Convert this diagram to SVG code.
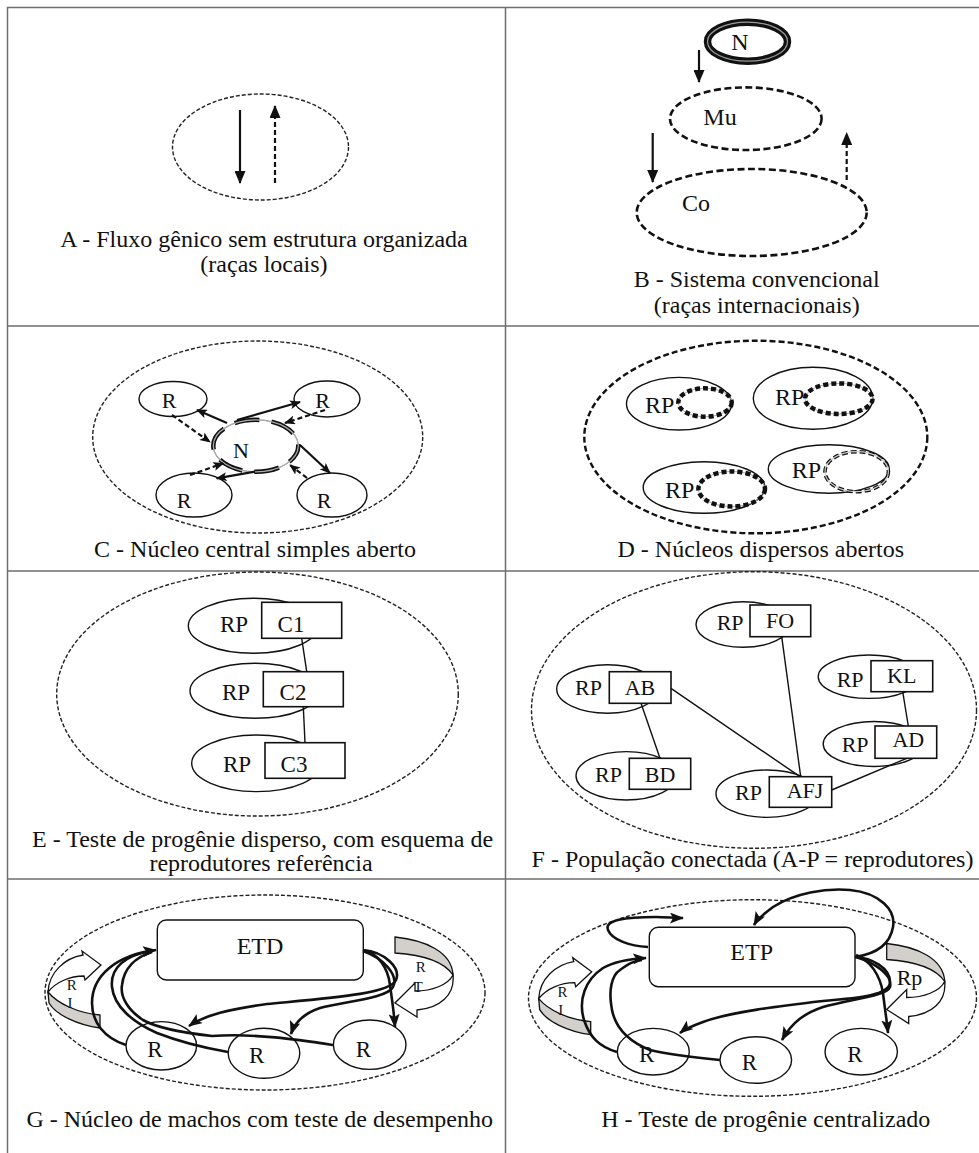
<svg xmlns="http://www.w3.org/2000/svg" xmlns:xlink="http://www.w3.org/1999/xlink" width="979" height="1153" viewBox="0 0 979 1153">
<style>
text{font-family:"Liberation Serif","Times New Roman",serif;fill:#111}
.cap{font-size:24px;text-anchor:middle}
.lbl{text-anchor:middle}
.border{stroke:#6e6e6e;stroke-width:1.5;fill:none}
.thinDash{fill:none;stroke:#222;stroke-width:1.4;stroke-dasharray:4 2}
.thickDash{fill:none;stroke:#111;stroke-width:2.6;stroke-dasharray:7 3.5}
.node{fill:none;stroke:#111;stroke-width:1.4}
.box{fill:#fff;stroke:#111;stroke-width:1.6}
.ln{fill:none;stroke:#111;stroke-width:1.4}
.sol{fill:none;stroke:#111;stroke-width:2.2}
.dsh{fill:none;stroke:#111;stroke-width:2.2;stroke-dasharray:5 3}
.crv{fill:none;stroke:#111;stroke-width:2.6}
.rib{fill:#fff;stroke:#111;stroke-width:1.3;stroke-linejoin:miter}
.ribg{fill:#d3cfcb;stroke:#111;stroke-width:1.3}
.inGray{fill:none;stroke:#aaa;stroke-width:1}
.inDash{fill:none;stroke:#111;stroke-width:4.5;stroke-dasharray:5 3}
</style>
<defs>
<marker id="ah" markerUnits="userSpaceOnUse" markerWidth="13" markerHeight="11" refX="12" refY="5.5" orient="auto"><path d="M0,0 L13,5.5 L0,11 Z" fill="#111"/></marker>
<marker id="ahs" markerUnits="userSpaceOnUse" markerWidth="11" markerHeight="9" refX="10" refY="4.5" orient="auto"><path d="M0,0 L11,4.5 L0,9 L2.5,4.5 Z" fill="#111"/></marker>
<marker id="ahc" markerUnits="userSpaceOnUse" markerWidth="14" markerHeight="11" refX="13" refY="5.5" orient="auto"><path d="M0,0 L14,5.5 L0,11 L3,5.5 Z" fill="#111"/></marker>
<g id="ribL">
<path class="ribg" d="M48,992 C58,1004 78,1013 100,1015 L100,1028 C78,1025 56,1015 49,1003 Z"/>
<path class="rib" d="M48,992 C49,972 65,958 83,955 L82,951 L101,965 L85,980 L84,976 C70,976 56,982 48,992 Z"/>
</g>
<g id="ribR">
<path class="ribg" d="M395,937 C425,940 452,952 453,975 C445,963 425,955 395,953 Z"/>
<path class="rib" d="M453,975 C455,995 440,1008 417,1010 L417,1017 L395,1003 L415,983 L415,991 C432,991 448,985 453,975 Z"/>
</g>
</defs>
<rect width="979" height="1153" fill="#fff"/>
<g id="grid">
<path class="border" d="M7.5,1153 V7.5 H979 M505.5,7.5 V1153 M7.5,326 H979 M7.5,571 H979 M7.5,879 H979"/>
</g>

<!-- Panel A -->
<g id="panelA">
<ellipse class="thinDash" cx="260.5" cy="147" rx="88" ry="53"/>
<text class="cap" x="264" y="247">A - Fluxo gênico sem estrutura organizada</text>
<text class="cap" x="264" y="272">(raças locais)</text>
</g>

<!-- Panel B -->
<g id="nodeB_N">
<ellipse cx="747.5" cy="41.7" rx="40" ry="19.5" fill="none" stroke="#111" stroke-width="7.5"/>
<ellipse cx="747.5" cy="41.7" rx="40" ry="19.5" fill="none" stroke="#9a9a9a" stroke-width="1.2"/>
<text class="lbl" x="740" y="50" font-size="24">N</text>
</g>
<g id="nodeB_Mu">
<ellipse class="thickDash" cx="745.8" cy="118.7" rx="75.8" ry="31.3"/>
<text class="lbl" x="720" y="125" font-size="24">Mu</text>
</g>
<g id="nodeB_Co">
<ellipse class="thickDash" cx="751.7" cy="212.5" rx="115" ry="43.5"/>
<text class="lbl" x="696" y="211" font-size="24">Co</text>
</g>
<g id="captionB">
<text class="cap" x="756.7" y="287">B - Sistema convencional</text>
<text class="cap" x="756.7" y="313">(raças internacionais)</text>
</g>

<!-- Panel C -->
<g id="panelC">
<ellipse class="thinDash" cx="257.7" cy="437" rx="165" ry="96"/>
<text class="cap" x="255" y="557">C - Núcleo central simples aberto</text>
</g>
<g id="nodeC_N">
<ellipse cx="255.8" cy="445.8" rx="42.5" ry="26" fill="none" stroke="#999" stroke-width="1"/>
<ellipse cx="255.8" cy="445.8" rx="42.5" ry="26" fill="none" stroke="#111" stroke-width="4.5" stroke-dasharray="25 12" stroke-dashoffset="6"/>
<ellipse cx="255.8" cy="445.8" rx="42.5" ry="26" fill="none" stroke="#aaa" stroke-width="1.3"/>
<text class="lbl" x="241" y="458" font-size="22">N</text>
</g>
<g id="nodeC_R1"><ellipse class="node" cx="173" cy="399" rx="34" ry="17.5"/><text class="lbl" x="169" y="408" font-size="22">R</text></g>
<g id="nodeC_R2"><ellipse class="node" cx="327" cy="399" rx="33" ry="18"/><text class="lbl" x="322.5" y="408" font-size="22">R</text></g>
<g id="nodeC_R3"><ellipse class="node" cx="194" cy="495" rx="38" ry="22"/><text class="lbl" x="184" y="508" font-size="22">R</text></g>
<g id="nodeC_R4"><ellipse class="node" cx="332" cy="495" rx="35" ry="22"/><text class="lbl" x="324" y="508" font-size="22">R</text></g>

<!-- Panel D -->
<g id="panelD">
<ellipse cx="755.8" cy="437" rx="171.5" ry="96.3" fill="none" stroke="#111" stroke-width="2.4" stroke-dasharray="6 3"/>
<text class="cap" x="760.8" y="557">D - Núcleos dispersos abertos</text>
</g>
<g id="nodeD_1">
<ellipse class="node" cx="679" cy="403.7" rx="52.5" ry="26.3"/>
<ellipse class="inGray" cx="705" cy="402.5" rx="26.7" ry="14.2"/>
<ellipse class="inDash" cx="705" cy="402.5" rx="26.7" ry="14.2"/>
<text x="645" y="413" font-size="24">RP</text>
</g>
<g id="nodeD_2">
<ellipse class="node" cx="813" cy="398.3" rx="59.7" ry="31"/>
<ellipse class="inGray" cx="838.8" cy="398.7" rx="33.8" ry="15.3"/>
<ellipse class="inDash" cx="838.8" cy="398.7" rx="33.8" ry="15.3"/>
<text x="775" y="405" font-size="24">RP</text>
</g>
<g id="nodeD_3">
<ellipse class="node" cx="704" cy="487.5" rx="60.8" ry="25.8"/>
<ellipse class="inGray" cx="731.7" cy="489" rx="33.3" ry="17.5"/>
<ellipse class="inDash" cx="731.7" cy="489" rx="33.3" ry="17.5"/>
<text x="665" y="498" font-size="24">RP</text>
</g>
<g id="nodeD_4">
<ellipse class="node" cx="828.8" cy="469" rx="60.5" ry="24.2"/>
<ellipse cx="856.7" cy="471.7" rx="31.7" ry="20" fill="none" stroke="#111" stroke-width="3.6" stroke-dasharray="6 3"/>
<ellipse cx="856.7" cy="471.7" rx="31.7" ry="20" fill="none" stroke="#ccc" stroke-width="1.2"/>
<text x="791.7" y="478" font-size="24">RP</text>
</g>

<!-- Panel E -->
<g id="panelE">
<ellipse class="thinDash" cx="257.5" cy="694" rx="200.8" ry="122"/>
<text class="cap" x="262.5" y="847">E - Teste de progênie disperso, com esquema de</text>
<text class="cap" x="261" y="871">reprodutores referência</text>
</g>
<g id="nodeE_C1">
<ellipse class="node" cx="253.3" cy="625.8" rx="65" ry="27.5"/>
<rect class="box" x="261.7" y="602.3" width="80" height="36"/>
<text class="lbl" x="234" y="631.5" font-size="23">RP</text>
<text class="lbl" x="291" y="631.5" font-size="23">C1</text>
</g>
<g id="nodeE_C2">
<ellipse class="node" cx="255" cy="690.8" rx="65" ry="27.5"/>
<rect class="box" x="263.3" y="671.7" width="80" height="35"/>
<text class="lbl" x="236" y="700" font-size="23">RP</text>
<text class="lbl" x="293" y="700" font-size="23">C2</text>
</g>
<g id="nodeE_C3">
<ellipse class="node" cx="256.7" cy="763.3" rx="65" ry="28.3"/>
<rect class="box" x="265" y="742.7" width="80" height="35.6"/>
<text class="lbl" x="237" y="771.5" font-size="23">RP</text>
<text class="lbl" x="294" y="771.5" font-size="23">C3</text>
</g>

<!-- Panel F -->
<g id="panelF">
<ellipse class="thinDash" cx="754" cy="710" rx="222.5" ry="138.3"/>
<text class="cap" x="752.5" y="866.5">F - População conectada (A-P = reprodutores)</text>
</g>
<g id="nodeF_FO">
<ellipse class="node" cx="743" cy="624.5" rx="47" ry="22.8"/>
<rect class="box" x="750" y="605" width="60.7" height="31.7"/>
<text x="716.7" y="630" font-size="22">RP</text>
<text class="lbl" x="780" y="628.3" font-size="22">FO</text>
</g>
<g id="nodeF_AB">
<ellipse class="node" cx="607.5" cy="689" rx="50.8" ry="24.2"/>
<rect class="box" x="609.3" y="671.7" width="61.7" height="31.6"/>
<text x="575" y="695" font-size="22">RP</text>
<text class="lbl" x="640" y="695" font-size="22">AB</text>
</g>
<g id="nodeF_KL">
<ellipse class="node" cx="869" cy="676.7" rx="50.8" ry="21.7"/>
<rect class="box" x="871" y="660.7" width="61.7" height="31"/>
<text x="836.7" y="686.7" font-size="22">RP</text>
<text class="lbl" x="901.7" y="683.3" font-size="22">KL</text>
</g>
<g id="nodeF_AD">
<ellipse class="node" cx="874" cy="744" rx="50.8" ry="22.5"/>
<rect class="box" x="875" y="726" width="61.7" height="32.3"/>
<text x="841.7" y="751.7" font-size="22">RP</text>
<text class="lbl" x="908.3" y="746.7" font-size="22">AD</text>
</g>
<g id="nodeF_BD">
<ellipse class="node" cx="626.3" cy="775.8" rx="50.3" ry="24.2"/>
<rect class="box" x="629.3" y="758.3" width="61.4" height="31"/>
<text x="595" y="781.7" font-size="22">RP</text>
<text class="lbl" x="660" y="781.7" font-size="22">BD</text>
</g>
<g id="nodeF_AFJ">
<ellipse class="node" cx="767" cy="793.7" rx="51" ry="23.7"/>
<rect class="box" x="769.3" y="776.7" width="62.4" height="30.6"/>
<text x="735" y="800" font-size="22">RP</text>
<text class="lbl" x="805" y="798.3" font-size="22">AFJ</text>
</g>

<!-- Panel G -->
<g id="panelG">
<ellipse class="thinDash" cx="265" cy="992.5" rx="220" ry="97.5"/>
<text class="cap" x="259.7" y="1127">G - Núcleo de machos com teste de desempenho</text>
</g>
<g id="nodeG_ETD">
<rect x="157.3" y="920" width="206" height="60" rx="9" fill="#fff" stroke="#111" stroke-width="1.4"/>
<text class="lbl" x="260" y="953.5" font-size="24">ETD</text>
</g>
<g id="nodeG_R1"><ellipse class="node" cx="161.3" cy="1045.8" rx="35.3" ry="24.2"/><text class="lbl" x="155" y="1056.7" font-size="23">R</text></g>
<g id="nodeG_R2"><ellipse class="node" cx="264" cy="1053.3" rx="35.8" ry="25"/><text class="lbl" x="256.7" y="1063.3" font-size="23">R</text></g>
<g id="nodeG_R3"><ellipse class="node" cx="369.7" cy="1044.7" rx="36.3" ry="24.7"/><text class="lbl" x="363.3" y="1056.7" font-size="23">R</text></g>
<g id="nodeG_RI">
<use xlink:href="#ribL"/>
<text class="lbl" x="71.7" y="990" font-size="15">R</text>
<text class="lbl" x="70" y="1008" font-size="15">I</text>
</g>
<g id="nodeG_RT">
<use xlink:href="#ribR"/>
<text class="lbl" x="420.7" y="971.7" font-size="15">R</text>
<text class="lbl" x="418" y="991.7" font-size="15">T</text>
</g>

<!-- Panel H -->
<g id="panelH">
<ellipse class="thinDash" cx="752.5" cy="998" rx="224" ry="98.3"/>
<text class="cap" x="765.8" y="1127">H - Teste de progênie centralizado</text>
</g>
<g id="nodeH_ETP">
<rect x="649.3" y="927.3" width="205.7" height="59.4" rx="9" fill="#fff" stroke="#111" stroke-width="1.4"/>
<text class="lbl" x="751.7" y="960" font-size="24">ETP</text>
</g>
<g id="nodeH_R1"><ellipse class="node" cx="653.3" cy="1051.7" rx="36" ry="23.3"/><text class="lbl" x="646.7" y="1061.7" font-size="23">R</text></g>
<g id="nodeH_R2"><ellipse class="node" cx="755.8" cy="1060" rx="35.8" ry="23.3"/><text class="lbl" x="749.3" y="1070" font-size="23">R</text></g>
<g id="nodeH_R3"><ellipse class="node" cx="861.2" cy="1051.7" rx="36.2" ry="23.3"/><text class="lbl" x="855" y="1061.7" font-size="23">R</text></g>
<g id="nodeH_RI">
<use xlink:href="#ribL" transform="translate(490.7,6.7)"/>
<text class="lbl" x="562.4" y="996.7" font-size="15">R</text>
<text class="lbl" x="560.7" y="1014.7" font-size="15">I</text>
</g>
<g id="nodeH_Rp">
<use xlink:href="#ribR" transform="translate(491.7,6.5)"/>
<text x="896.7" y="985" font-size="22">Rp</text>
</g>

<!-- Connectors -->
<g id="connectors">
<line class="sol" x1="240" y1="110" x2="240" y2="183" marker-end="url(#ah)"/>
<line class="dsh" x1="275" y1="183" x2="275" y2="106" marker-end="url(#ah)"/>
<line class="sol" x1="699" y1="50" x2="699" y2="82" marker-end="url(#ah)"/>
<line class="sol" x1="652.7" y1="133" x2="652.7" y2="182" marker-end="url(#ah)"/>
<line class="dsh" x1="846.7" y1="180" x2="846.7" y2="133" marker-end="url(#ah)"/>
<line class="sol" x1="227" y1="423" x2="197" y2="410" marker-end="url(#ahs)"/>
<line class="dsh" x1="172" y1="415" x2="210" y2="442" marker-end="url(#ahs)"/>
<line class="sol" x1="237" y1="420" x2="300" y2="402" marker-end="url(#ahs)"/>
<line class="dsh" x1="325" y1="410" x2="285" y2="423" marker-end="url(#ahs)"/>
<line class="sol" x1="300" y1="445" x2="330" y2="473" marker-end="url(#ahs)"/>
<line class="dsh" x1="307" y1="478" x2="290" y2="465" marker-end="url(#ahs)"/>
<line class="sol" x1="255" y1="471.7" x2="216.7" y2="478.3" marker-end="url(#ahs)"/>
<line class="dsh" x1="190" y1="475" x2="223.3" y2="463.3" marker-end="url(#ahs)"/>
<line class="ln" x1="301.7" y1="638.3" x2="306.7" y2="671.7"/>
<line class="ln" x1="303.3" y1="706.7" x2="305" y2="742.7"/>
<line class="ln" x1="641" y1="703.3" x2="660" y2="758.3"/>
<line class="ln" x1="671" y1="688.3" x2="800" y2="776.7"/>
<line class="ln" x1="781.7" y1="636.7" x2="800.7" y2="776.7"/>
<line class="ln" x1="902.7" y1="691.7" x2="908.3" y2="726"/>
<line class="ln" x1="906.7" y1="758.3" x2="831.7" y2="790"/>
<path class="crv" d="M126,1045 C104,1038 92,1022 92,1003 C92,976 116,955 156,950" marker-end="url(#ahc)"/>
<path class="crv" d="M228,1052 C205,1048 180,1042 157,1033 C132,1022 114,1006 112,987 C110,968 125,955 152,951"/>
<path class="crv" d="M333,1045 C300,1040 255,1033 212,1036 C185,1033 157,1028 143,1020 C128,1010 120,997 122,985 C124,968 136,957 152,952"/>
<path class="crv" d="M363,950 C385,952 401,968 396,980 C390,994 330,998 267,1004 C230,1009 205,1015 189,1026" marker-end="url(#ahc)"/>
<path class="crv" d="M363,951 C383,958 399,975 393,987 C386,999 345,1001 320,1008 C305,1013 295,1022 291,1034" marker-end="url(#ahc)"/>
<path class="crv" d="M363,950 C378,953 388,968 390,985 C392,1000 394,1012 395,1027" marker-end="url(#ahc)"/>
<path class="crv" d="M617,1052 C600,1047 590,1038 584,1020 C578,1000 585,980 603,968 C615,961 630,959 646,958" marker-end="url(#ahc)"/>
<path class="crv" d="M720,1060 C700,1058 670,1055 650,1050 C630,1042 616,1030 612,1010 C608,990 612,975 620,970 C628,964 633,961 642,960"/>
<path class="crv" d="M855,957 C872,958 890,968 890,982 C890,995 860,998 823,1001 C780,1006 730,1012 703,1022 C692,1026 685,1029 680,1033" marker-end="url(#ahc)"/>
<path class="crv" d="M856,957 C875,963 893,975 890,987 C887,996 850,999 823,1007 C805,1013 792,1022 782,1040" marker-end="url(#ahc)"/>
<path class="crv" d="M856,955 C870,960 880,975 883,993 C885,1010 887,1022 888,1033" marker-end="url(#ahc)"/>
<path class="crv" d="M648,947 C630,946 612,940 608,930 C604,920 625,917 656,917 C665,917 675,918 683,918" marker-end="url(#ahc)"/>
<path class="crv" d="M855,957 C875,954 890,945 893,927 C896,910 880,893 850,890 C825,888 795,893 773,907 C765,913 758,918 754,925" marker-end="url(#ahc)"/>
</g>
</svg>
